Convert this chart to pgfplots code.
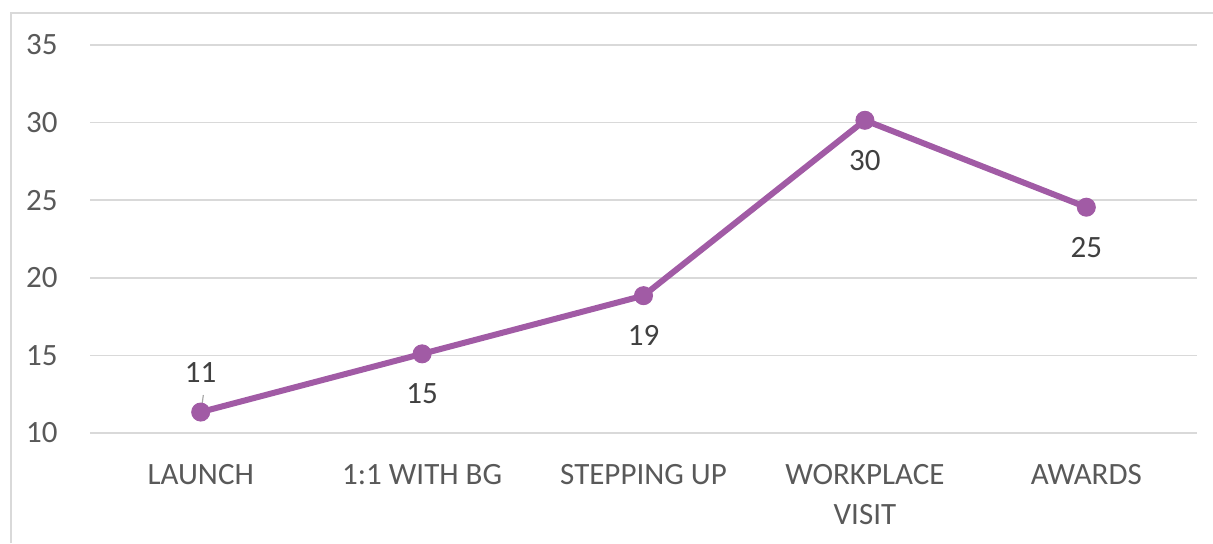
\documentclass[border=0pt]{standalone}
\usepackage{fontspec}
\setmainfont{Carlito}
\usepackage{pgfplots}
\pgfplotsset{compat=1.18}
\usepackage{pgfplotstable}

\definecolor{linepurple}{HTML}{A15BA5}
\definecolor{gridgray}{HTML}{D9D9D9}
\definecolor{labelgray}{HTML}{595959}
\definecolor{valuegray}{HTML}{404040}

% x = stage index, y = score, dy = vertical offset of the value label
\pgfplotstableread{
x y dy
0 11.35 20
1 15.10 -20
2 18.85 -20
3 30.15 -20
4 24.55 -20
}\stages

\begin{document}
\begin{tikzpicture}
\useasboundingbox (0,0) rectangle (606.5pt,271.5pt);
% chart frame (top and left edges)
\draw[gridgray, line width=0.75pt] (5.5pt,0) -- (5.5pt,265pt) -- (606.5pt,265pt);
\begin{axis}[
  scale only axis,
  width=553.5pt, height=194pt,
  at={(45pt,55pt)}, anchor=south west,
  xmin=-0.5, xmax=4.5,
  ymin=10, ymax=35,
  ytick={10,15,20,25,30,35},
  xtick={0,1,2,3,4},
  xticklabels={LAUNCH, 1:1 WITH BG, STEPPING UP, {WORKPLACE\\VISIT}, AWARDS},
  /pgf/number format/assume math mode=true,
  ymajorgrids,
  grid style={gridgray, line width=0.8pt},
  axis line style={draw=none},
  major tick length=0pt,
  tick style={draw=none},
  ticklabel style={font=\fontsize{15.5}{20}\selectfont, text=labelgray},
  xticklabel style={anchor=north, inner sep=0pt, yshift=-15.5pt, align=center},
  yticklabel style={anchor=east, inner sep=0pt, xshift=-16pt},
  clip=false,
]
\addplot[
  color=linepurple, line width=3pt,
  mark=*, mark size=3.75pt,
  mark options={solid, fill=linepurple, draw=linepurple, line width=0.5pt, scale=1.2},
  point meta=explicit,
  nodes near coords={\pgfmathprintnumber[fixed, precision=0]{\pgfplotspointmeta}},
  visualization depends on={\thisrow{dy} \as \dy},
  every node near coord/.append style={anchor=center, inner sep=0pt, yshift=\dy pt,
    font=\fontsize{15.5}{18}\selectfont, text=valuegray},
] table[x=x, y=y, meta=y] {\stages};
% leader line from the first value label to its point
\draw[color=gray!70, line width=0.6pt] (axis cs:0.012,12.45) -- (axis cs:0.003,11.55);
\end{axis}
\end{tikzpicture}
\end{document}
